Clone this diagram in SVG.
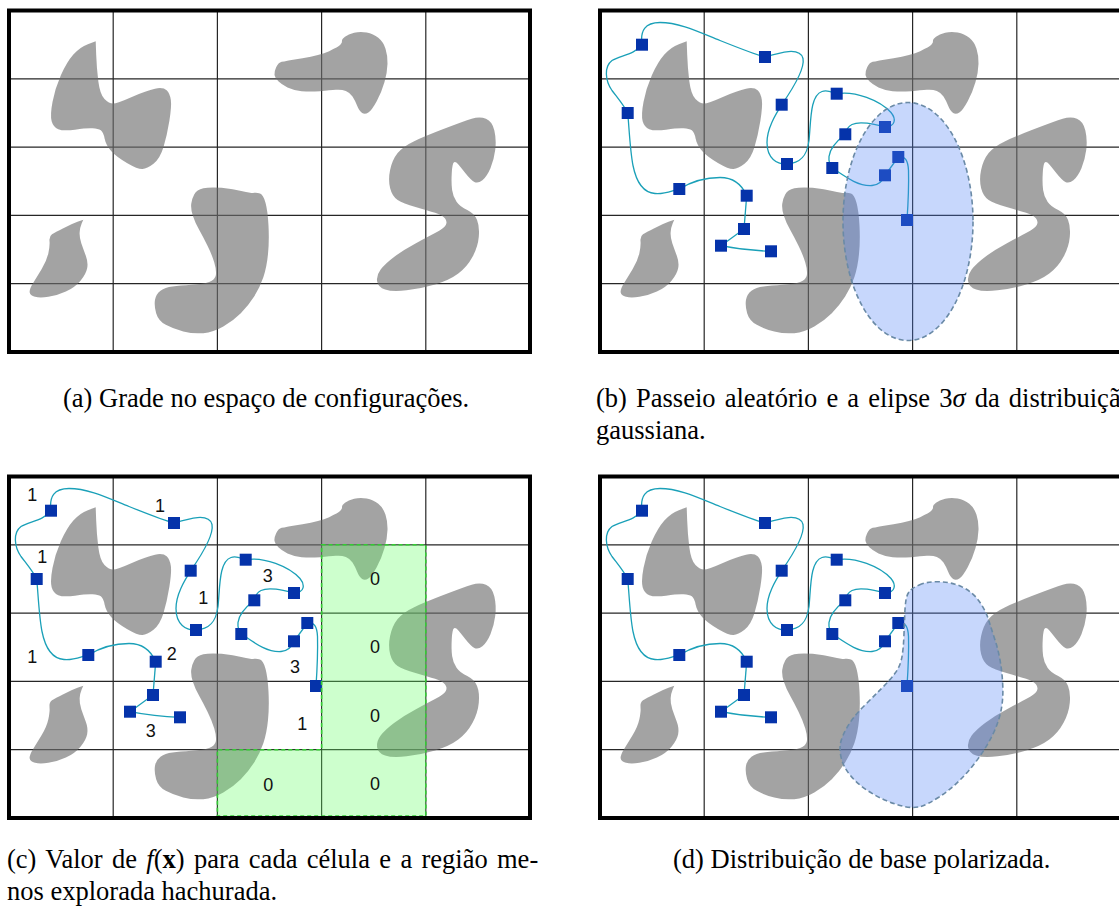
<svg xmlns="http://www.w3.org/2000/svg" width="1119" height="908" viewBox="0 0 1119 908">
<style>
.grid line{stroke:#262626;stroke-width:1.2}
.obs{fill:#6e6e6e;fill-opacity:0.63}
.frame{fill:none;stroke:#000;stroke-width:4}
.conn path{fill:none;stroke:#1aa0b8;stroke-width:1.3}
.node rect{fill:#0533aa}
.gauss{fill:rgb(80,130,245);fill-opacity:0.32;stroke:#6a8aa6;stroke-width:1.6;stroke-dasharray:5 3}
.green{fill:#66ff66;fill-opacity:0.33;stroke:#33cc33;stroke-width:1.6;stroke-dasharray:4 3}
.num{font-family:"Liberation Sans",Arial,sans-serif;font-size:18px;fill:#111;text-anchor:middle}
.cap{font-family:"Liberation Serif","Times New Roman",serif;font-size:26.5px;fill:#000}
</style>
<defs>
<g id="base">
<rect width="521" height="341.5" fill="#fff"/>
<g class="grid">
<line x1="104.2" y1="0" x2="104.2" y2="341.5"/>
<line x1="208.4" y1="0" x2="208.4" y2="341.5"/>
<line x1="312.6" y1="0" x2="312.6" y2="341.5"/>
<line x1="416.8" y1="0" x2="416.8" y2="341.5"/>
<line x1="0" y1="68.3" x2="521" y2="68.3"/>
<line x1="0" y1="136.6" x2="521" y2="136.6"/>
<line x1="0" y1="204.9" x2="521" y2="204.9"/>
<line x1="0" y1="273.2" x2="521" y2="273.2"/>
</g>
<g id="obstacles">
<path class="obs" d="M 87.2 44.4 Q 87.7 58 89.35 71 Q 91 84 95.5 88.5 Q 100 93 104 93 Q 108 93 122.85 86.4 Q 137.7 79.8 146 78.15 Q 154.3 76.5 157.65 79.85 Q 161 83.2 161.85 89.6 Q 162.7 96 160.35 110.4 Q 158 124.8 154.5 136.5 Q 151 148.2 144.5 153.2 Q 138 158.2 133.5 158.5 Q 129 158.8 118.35 152.65 Q 107.7 146.5 102.35 140.65 Q 97 134.8 95.65 128.15 Q 94.3 121.5 91.8 119.85 Q 89.3 118.2 83.5 117.85 Q 77.7 117.5 66 119.15 Q 54.3 120.8 49.3 118.65 Q 44.3 116.5 42.65 110.65 Q 41 104.8 43.5 91.5 Q 46 78.2 51.85 64.85 Q 57.7 51.5 64.35 44 Q 71 36.5 78.85 33.65 L 86.7 30.8 Z"/>
<path class="obs" d="M 267.15 56.85 Q 269.3 52.2 272.65 51.35 Q 276 50.5 293.5 47.65 Q 311 44.8 320.15 40.65 Q 329.3 36.5 331.3 34.35 Q 333.3 32.2 333 30.5 Q 332.7 28.8 336 26.3 Q 339.3 23.8 345.15 22.3 Q 351 20.8 357.65 22 Q 364.3 23.2 369.3 27.35 Q 374.3 31.5 376.5 38.15 Q 378.7 44.8 378.5 53.15 Q 378.3 61.5 375.5 71.5 Q 372.7 81.5 367.7 90.65 Q 362.7 99.8 359.35 102 Q 356 104.2 353.15 102.5 Q 350.3 100.8 348.15 95.3 Q 346 89.8 343.5 86 Q 341 82.2 336.85 80.5 Q 332.7 78.8 326.85 79.3 Q 321 79.8 311 80.65 Q 301 81.5 292.65 80.65 Q 284.3 79.8 278.5 77 Q 272.7 74.2 269.35 70.85 Q 266 67.5 265.5 64.5 Q 265 61.5 267.15 56.85 Z"/>
<path class="obs" d="M 74.3 209.2 L 68.5 211.35 Q 62.7 213.5 54.35 217.65 Q 46 221.8 43 223.8 Q 40 225.8 40.5 230.5 Q 41 235.2 39.35 242.7 Q 37.7 250.2 32.7 258.5 Q 27.7 266.8 24 272.65 Q 20.3 278.5 20.65 281.85 Q 21 285.2 26 286.35 Q 31 287.5 39.35 286.35 Q 47.7 285.2 56.85 281 Q 66 276.8 71.5 270.15 Q 77 263.5 78.15 257.65 Q 79.3 251.8 76.8 245.15 Q 74.3 238.5 72.3 232.65 Q 70.3 226.8 70.65 221.8 Q 71 216.8 72.65 213 Z"/>
<path class="obs" d="M 185.2 184 Q 187.7 179.5 194.35 177.85 Q 201 176.2 212.65 177.35 Q 224.3 178.5 233.5 180.65 Q 242.7 182.8 245.2 182.3 Q 247.7 181.8 251 183 Q 254.3 184.2 256.5 192.2 Q 258.7 200.2 259.5 215.2 Q 260.3 230.2 259 243.5 Q 257.7 256.8 254.35 266.8 Q 251 276.8 245.15 286 Q 239.3 295.2 231.8 302.7 Q 224.3 310.2 214.3 316 Q 204.3 321.8 194.3 322.65 Q 184.3 323.5 174.3 321 Q 164.3 318.5 156.8 314.35 Q 149.3 310.2 147.15 302.7 Q 145 295.2 146 289.35 Q 147 283.5 151.5 280.15 Q 156 276.8 163.5 276 Q 171 275.2 182.65 274.35 Q 194.3 273.5 200.15 271.5 Q 206 269.5 206.85 264.85 Q 207.7 260.2 205.2 251.85 Q 202.7 243.5 198.5 235.15 Q 194.3 226.8 190.15 219.3 Q 186 211.8 183.85 205.15 Q 181.7 198.5 182.2 193.5 Q 182.7 188.5 185.2 184 Z"/>
<path class="obs" d="M 435.05 118.35 Q 454.7 110.8 462.7 108.3 Q 470.7 105.8 476.95 108.3 Q 483.2 110.8 485.35 120 Q 487.5 129.2 486.25 139.25 Q 485 149.3 481.45 157.65 Q 477.9 166 473.4 169.7 Q 468.9 173.4 465.35 171.4 Q 461.8 169.4 456.45 162.7 Q 451.1 156 448.95 153.5 Q 446.8 151 445.05 151.8 Q 443.3 152.6 442.75 162.65 Q 442.2 172.7 443.1 179.4 Q 444 186.1 447.55 191.15 Q 451.1 196.2 458.25 199.55 Q 465.4 202.9 468.05 209.55 Q 470.7 216.2 469.8 226.25 Q 468.9 236.3 463.55 246.35 Q 458.2 256.4 449.3 263.1 Q 440.4 269.8 426.1 274 Q 411.8 278.2 397.55 279.85 Q 383.3 281.5 376.15 279 Q 369 276.5 368.1 270.65 Q 367.2 264.8 371.65 258.95 Q 376.1 253.1 385.05 246.4 Q 394 239.7 406.5 233 Q 419 226.3 427 222.1 Q 435 217.9 436.8 214.55 Q 438.6 211.2 435.9 207.85 Q 433.2 204.5 426.1 202.35 Q 419 200.2 406.5 196.5 Q 394 192.8 388.65 189.45 Q 383.3 186.1 381.15 177.75 Q 379 169.4 381.15 159.35 Q 383.3 149.3 388.65 142.6 Q 394 135.9 404.7 130.9 Q 415.4 125.9 435.05 118.35 Z"/>
</g>
</g>
<g id="walk">
<g class="conn" id="connectors">
<path d="M 42 34.2 C 40 20, 45 12, 60 12 C 80 12, 100 22, 120 30 C 140 38, 155 44, 165 46.5"/>
<path d="M 165 46.5 C 180 42, 200 36, 203 48 C 205 58, 195 75, 181.7 94.2"/>
<path d="M 181.7 94.2 C 175 105, 167 118, 167 132 C 167 148, 177 154, 187 153.5"/>
<path d="M 187 153.5 C 200 153, 207 146, 209 130 C 211 110, 210 85, 222 81 C 228 79, 232 82, 236.7 83.2"/>
<path d="M 236.7 83.2 C 255 80, 280 90, 291 102 C 296 108, 296 116, 285 116.5"/>
<path d="M 285 116.5 C 275 114, 260 110, 252 114 C 248 116, 246 120, 245.3 123.8"/>
<path d="M 245.3 123.8 C 240 128, 230 136, 229 146 C 228.5 152, 230 155, 232.3 157.5"/>
<path d="M 232.3 157.5 C 245 166, 258 176, 272 175 C 280 174.5, 283 170, 285 164.8"/>
<path d="M 285 164.8 L 298.3 146.5"/>
<path d="M 298.3 146.5 C 305 145, 308 150, 308.5 160 C 309 180, 308 195, 307 209.5"/>
<path d="M 42 34.2 C 35 44, 20 45, 12 50 C 4 56, 5 70, 12 80 C 18 88, 24 95, 27.7 102.5"/>
<path d="M 27.7 102.5 C 29 115, 30 140, 33 155 C 36 170, 42 182, 55 183 C 65 184, 72 180, 79.3 178.5"/>
<path d="M 79.3 178.5 C 90 172, 105 167, 120 167 C 132 167, 141 172, 146.7 185.2"/>
<path d="M 146.7 185.2 L 144 218.5"/>
<path d="M 144 218.5 L 121 235.2"/>
<path d="M 121 235.2 Q 145 240 171 240.8"/>
</g>
<g class="node" id="n1"><rect x="36" y="28.2" width="12" height="12"/></g>
<g class="node" id="n2"><rect x="159" y="40.5" width="12" height="12"/></g>
<g class="node" id="n3"><rect x="21.7" y="96.5" width="12" height="12"/></g>
<g class="node" id="n4"><rect x="175.7" y="88.2" width="12" height="12"/></g>
<g class="node" id="n5"><rect x="181" y="147.5" width="12" height="12"/></g>
<g class="node" id="n6"><rect x="230.7" y="77.2" width="12" height="12"/></g>
<g class="node" id="n7"><rect x="239.3" y="117.8" width="12" height="12"/></g>
<g class="node" id="n8"><rect x="226.3" y="151.5" width="12" height="12"/></g>
<g class="node" id="n9"><rect x="279" y="110.5" width="12" height="12"/></g>
<g class="node" id="n10"><rect x="292.3" y="140.5" width="12" height="12"/></g>
<g class="node" id="n11"><rect x="279" y="158.8" width="12" height="12"/></g>
<g class="node" id="n12"><rect x="73.3" y="172.5" width="12" height="12"/></g>
<g class="node" id="n13"><rect x="140.7" y="179.2" width="12" height="12"/></g>
<g class="node" id="n14"><rect x="138" y="212.5" width="12" height="12"/></g>
<g class="node" id="n15"><rect x="115" y="229.2" width="12" height="12"/></g>
<g class="node" id="n16"><rect x="165" y="234.8" width="12" height="12"/></g>
<g class="node" id="n17"><rect x="301" y="203.5" width="12" height="12"/></g>
</g>
</defs>

<g id="panel-a" transform="translate(9,10.5)">
<use href="#base"/>
<rect class="frame" width="521" height="341.5"/>
</g>

<g id="panel-b" transform="translate(600,10.5)">
<use href="#base"/>
<use href="#walk"/>
<ellipse id="gauss-ellipse" class="gauss" cx="308" cy="211" rx="65" ry="119"/>
<rect class="frame" width="521" height="341.5"/>
</g>

<g id="panel-c" transform="translate(9,476.5)">
<use href="#base"/>
<use href="#walk"/>
<path id="least-explored" class="green" d="M 312.6 68.3 H 416.8 V 339.5 H 208.4 V 273.2 H 312.6 Z"/>
<g id="cell-values">
<text class="num" x="23.3" y="24">1</text>
<text class="num" x="151" y="35.3">1</text>
<text class="num" x="33.3" y="86.3">1</text>
<text class="num" x="194.3" y="127.3">1</text>
<text class="num" x="258.7" y="105.3">3</text>
<text class="num" x="23.3" y="186">1</text>
<text class="num" x="162.7" y="183.3">2</text>
<text class="num" x="141.7" y="260.7">3</text>
<text class="num" x="286" y="196">3</text>
<text class="num" x="293.3" y="253.3">1</text>
<text class="num" x="366" y="108">0</text>
<text class="num" x="366" y="176.7">0</text>
<text class="num" x="366" y="245">0</text>
<text class="num" x="366" y="313.3">0</text>
<text class="num" x="259.3" y="314">0</text>
</g>
<rect class="frame" width="521" height="341.5"/>
</g>

<g id="panel-d" transform="translate(600,476.5)">
<use href="#base"/>
<use href="#walk"/>
<path id="biased-dist" class="gauss" d="M 319.2 108.5 Q 326.7 105.2 336.7 105.2 Q 346.7 105.2 355 107.7 Q 363.3 110.2 370 115.2 Q 376.7 120.2 381.7 128.5 Q 386.7 136.8 389.2 145.15 Q 391.7 153.5 395 163.5 Q 398.3 173.5 400.3 185.15 Q 402.3 196.8 402.8 210.15 Q 403.3 223.5 400.8 235.15 Q 398.3 246.8 392.5 258.5 Q 386.7 270.2 378.35 281.85 Q 370 293.5 360 303.5 Q 350 313.5 338.35 321 Q 326.7 328.5 320 330.15 Q 313.3 331.8 305 330.15 Q 296.7 328.5 286.7 324.35 Q 276.7 320.2 266.7 313.5 Q 256.7 306.8 250 298.5 Q 243.3 290.2 241.3 281.85 Q 239.3 273.5 240.5 266.85 Q 241.7 260.2 247.5 250.2 Q 253.3 240.2 263.3 230.2 Q 273.3 220.2 281.65 211.85 Q 290 203.5 295 196.85 Q 300 190.2 301.65 181.85 Q 303.3 173.5 303.8 161.85 Q 304.3 150.2 304.65 140.2 Q 305 130.2 305.85 124.35 Q 306.7 118.5 309.2 115.15 Q 311.7 111.8 319.2 108.5 Z"/>
<rect class="frame" width="521" height="341.5"/>
</g>

<g id="captions">
<text class="cap" x="63" y="407">(a) Grade no espaço de configurações.</text>
<text class="cap" x="596" y="407" word-spacing="2.5">(b) Passeio aleatório e a elipse 3<tspan font-style="italic">σ</tspan> da distribuição</text>
<text class="cap" x="596" y="439">gaussiana.</text>
<text class="cap" x="7" y="868" word-spacing="2.7">(c) Valor de <tspan font-style="italic">f</tspan>(<tspan font-weight="bold">x</tspan>) para cada célula e a região me-</text>
<text class="cap" x="7" y="900">nos explorada hachurada.</text>
<text class="cap" x="673" y="868">(d) Distribuição de base polarizada.</text>
</g>
</svg>
